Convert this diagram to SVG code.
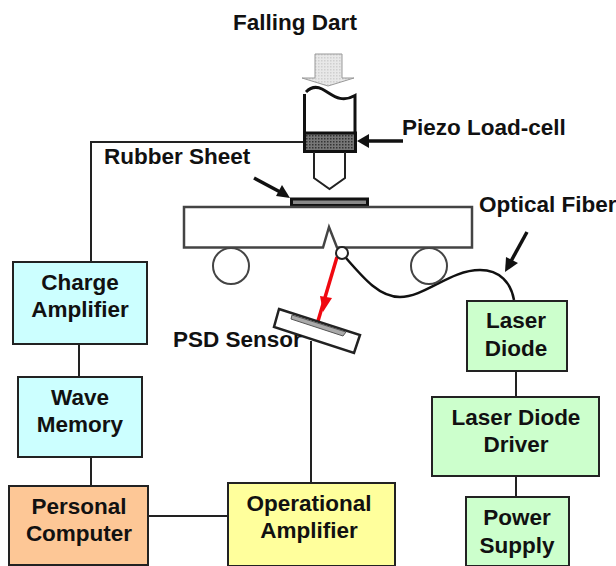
<svg xmlns="http://www.w3.org/2000/svg" width="616" height="566" viewBox="0 0 616 566">
<defs>
<pattern id="dots" width="3" height="3" patternUnits="userSpaceOnUse"><rect width="3" height="3" fill="#777"/><rect width="1.5" height="1.5" fill="#333"/></pattern>
<pattern id="light" width="3" height="3" patternUnits="userSpaceOnUse"><rect width="3" height="3" fill="#e8e8e8"/><rect width="1.5" height="1.5" fill="#cfcfcf"/></pattern>
</defs>
<style>
text{font-family:"Liberation Sans",Arial,sans-serif;font-weight:bold;fill:#111;text-anchor:middle;font-size:22.5px}
.l{text-anchor:start}
.box{stroke:#222;stroke-width:2}
.ln{fill:none;stroke:#222;stroke-width:2}
.th{fill:none;stroke:#111;stroke-width:3}
.ar{fill:none;stroke:#111;stroke-width:3.5}
</style>
<g id="connectors">
<path class="ln" d="M304 142H91V262"/>
<path class="ln" d="M79 344V377M91 457V486"/>
<path class="ln" d="M148 516H228"/>
<path class="ln" d="M311 341V483"/>
<path class="ln" d="M516 371V397M516 476V497"/>
<path d="M346 258C365 280 380 297 400 297C425 297 450 270 480 270C500 270 511 283 514 300" fill="none" stroke="#111" stroke-width="2.500"/>
<path d="M337 257L318 321" stroke="#f00810" stroke-width="3.500" fill="none"/>
<path d="M320 296L332 298L323 312Z" fill="#f00810"/>
</g>
<g id="falling-dart"><text x="295" y="30">Falling Dart</text>
<path d="M315 54H342V78H354L328 86L302 78H315Z" fill="url(#light)" stroke="#999" stroke-width="1"/></g>
<g id="piezo-load-cell">
<path class="th" d="M304.500 133V94M306 92C311 87 316 86 322 89C332 94 340 104 355 95.500V133"/>
<rect x="304.500" y="133" width="51" height="18.500" fill="url(#dots)" stroke="#111" stroke-width="3"/>
<path class="ln" d="M314 152V178L329.500 189L345 178V152" stroke-width="2.500"/>
<text class="l" x="402" y="135">Piezo Load-cell</text>
<path class="ar" d="M403 141H368"/><path d="M357 141L369 134V148Z" fill="#111"/>
</g>
<g id="rubber-sheet">
<rect x="291.500" y="199" width="76" height="6.500" fill="#888" stroke="#111" stroke-width="3"/>
<text class="l" x="104" y="164">Rubber Sheet</text>
<path class="ar" d="M254 178L282 193"/><path d="M290 198L276 196L282 185Z" fill="#111"/>
</g>
<g id="beam">
<path d="M184 207H472V247.500H337L329 227L323 247.500H184Z" fill="#fff" stroke="#444" stroke-width="2.500"/>
<circle cx="231" cy="266" r="18" fill="#fff" stroke="#444" stroke-width="2"/>
<circle cx="429" cy="266" r="18" fill="#fff" stroke="#444" stroke-width="2"/>
<circle cx="342" cy="253" r="6" fill="#fff" stroke="#222" stroke-width="2"/>
</g>
<g id="optical-fiber"><text class="l" x="479" y="212">Optical Fiber</text>
<path class="ar" d="M527 232L510 263"/><path d="M505 272L506 257L518 263Z" fill="#111"/></g>
<g id="psd-sensor">
<path d="M279 309L360 335L354 353L274 327Z" fill="#fff" stroke="#222" stroke-width="2.500"/>
<path d="M292 315L346 332L343 336L291 319Z" fill="#aaa" stroke="#555" stroke-width="1"/>
<text class="l" x="173" y="347">PSD Sensor</text>
</g>
<g id="charge-amplifier"><rect class="box" x="13" y="262" width="134" height="82" fill="#ccffff"/><text x="80" y="290">Charge</text><text x="80" y="317">Amplifier</text></g>
<g id="wave-memory"><rect class="box" x="18" y="377" width="124" height="80" fill="#ccffff"/><text x="80" y="405">Wave</text><text x="80" y="432">Memory</text></g>
<g id="personal-computer"><rect class="box" x="9" y="486" width="139" height="79" fill="#fdc796"/><text x="79" y="514">Personal</text><text x="79" y="541">Computer</text></g>
<g id="operational-amplifier"><rect class="box" x="228" y="483" width="167" height="83" fill="#ffff9c"/><text x="309" y="511">Operational</text><text x="309" y="538">Amplifier</text></g>
<g id="laser-diode"><rect class="box" x="467" y="301" width="100" height="70" fill="#ccffcc"/><text x="516" y="328">Laser</text><text x="516" y="356">Diode</text></g>
<g id="laser-diode-driver"><rect class="box" x="432" y="397" width="167" height="79" fill="#ccffcc"/><text x="516" y="425">Laser Diode</text><text x="516" y="452">Driver</text></g>
<g id="power-supply"><rect class="box" x="466" y="497" width="103" height="69" fill="#ccffcc"/><text x="517" y="525">Power</text><text x="517" y="553">Supply</text></g>
</svg>
